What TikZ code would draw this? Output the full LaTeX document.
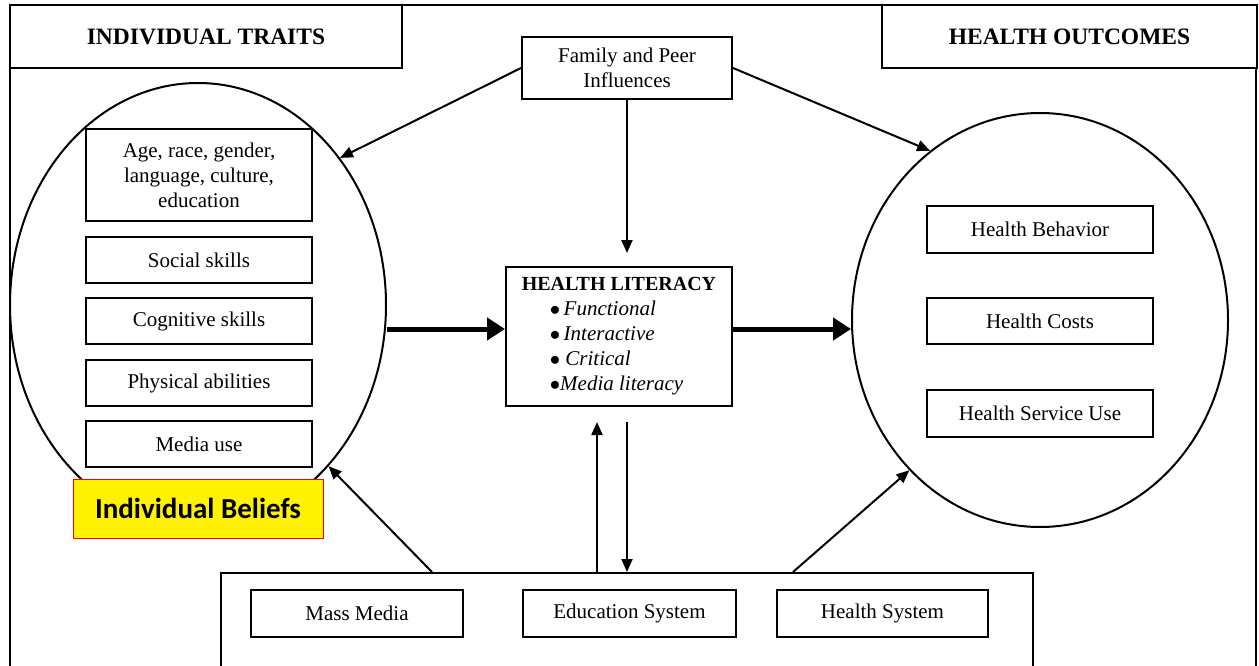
\documentclass[tikz,border=0pt]{standalone}
\usepackage{fontspec}
\setmainfont{Liberation Serif}
\newfontfamily\beliefsfont{Carlito}
\usetikzlibrary{arrows.meta,shapes.geometric}
\tikzset{
every picture/.style={
line width=2pt
}}
\tikzset{
box/.style={draw, fill=white, align=center, inner sep=0pt, font=\fontsize{21}{25}\selectfont},
heading/.style={draw, fill=white, inner sep=0pt, font=\fontsize{23.5}{28}\selectfont\bfseries},
oval/.style={draw, ellipse, inner sep=0pt},
beliefs/.style={draw=red, line width=1pt, fill=yellow, inner sep=0pt, font=\beliefsfont\fontsize{29}{34}\selectfont\bfseries},
bigarrow/.style={line width=5pt, -{Triangle[length=18pt,width=22pt]}},
>={Triangle[length=13pt,width=11pt]}
}

\begin{document}
\begin{tikzpicture}[x=1pt, y=-1pt]
  \useasboundingbox (0,0) rectangle (1259,666);
  \draw (10,5) rectangle (1256,690);

  \node (trait) [heading, minimum width=392pt, minimum height=63pt] at (206,36.5) {INDIVIDUAL TRAITS};
  \node (outc) [heading, minimum width=375pt, minimum height=63pt] at (1069.5,36.5) {HEALTH OUTCOMES};
  \node (fam) [box, minimum width=210pt, minimum height=62pt] at (627,68) {Family and Peer\\Influences};

  \node (lell) [oval, minimum width=376pt, minimum height=444pt] at (198,305) {};
  \node (rell) [oval, minimum width=376pt, minimum height=414pt] at (1040,320) {};

  \node (age) [box, minimum width=226pt, minimum height=92pt] at (199,175) {Age, race, gender,\\language, culture,\\education};
  \node (soc) [box, minimum width=226pt, minimum height=46pt] at (199,260) {Social skills};
  \node (cog) [box, minimum width=226pt, minimum height=46pt] at (199,321) {Cognitive skills};
  \node (phys) [box, minimum width=226pt, minimum height=46pt] at (199,383) {Physical abilities};
  \node (med) [box, minimum width=226pt, minimum height=46pt] at (199,444) {Media use};
  \node (blf) [beliefs, minimum width=250pt, minimum height=59pt] at (198,508.5) {Individual Beliefs};

  \node (hl) [box, align=left, minimum width=226pt, minimum height=139pt] at (619,336.5) {\fontsize{20}{25}\selectfont\textbf{HEALTH LITERACY}\\
    \hspace*{28pt}$\bullet$\,\textit{Functional}\\
    \hspace*{28pt}$\bullet$\,\textit{Interactive}\\
    \hspace*{28pt}$\bullet$\ \textit{Critical}\\
    \hspace*{28pt}$\bullet$\textit{Media literacy}};

  \node (beh) [box, minimum width=226pt, minimum height=47pt] at (1040,229.5) {Health Behavior};
  \node (cost) [box, minimum width=226pt, minimum height=46pt] at (1040,321) {Health Costs};
  \node (serv) [box, minimum width=226pt, minimum height=47pt] at (1040,413.5) {Health Service Use};

  \node (sys) [draw, inner sep=0pt, minimum width=812pt, minimum height=107pt] at (627,626.5) {};
  \node (mass) [box, minimum width=212pt, minimum height=47pt] at (357,613.5) {Mass Media};
  \node (edu) [box, minimum width=213pt, minimum height=47pt] at (629.5,613.5) {Education System};
  \node (hsys) [box, minimum width=211pt, minimum height=47pt] at (882.5,613.5) {Health System};

  \draw [->] (fam.west) -- (lell.46);
  \draw [->] (fam.east) -- (rell.123);
  \draw [->, shorten >=13pt] (fam.south) -- (fam.south |- hl.north);

  \path ([yshift=7.5pt]hl.west) coordinate (hlin) ([yshift=7.5pt]hl.east) coordinate (hlout);
  \draw [bigarrow] (hlin -| lell.east) -- (hlin);
  \draw [bigarrow] (hlout) -- (hlout -| rell.west);

  \draw [->] ([xshift=-195pt]sys.north) -- (lell.-51);
  \draw [->] ([xshift=166pt]sys.north) -- (rell.229);

  \path ([xshift=-30pt]sys.north) coordinate (up0);
  \draw [->, shorten >=15pt] (up0) -- (up0 |- hl.south);
  \draw [->, shorten <=15pt] (sys.north |- hl.south) -- (sys.north);

\end{tikzpicture}
\end{document}
